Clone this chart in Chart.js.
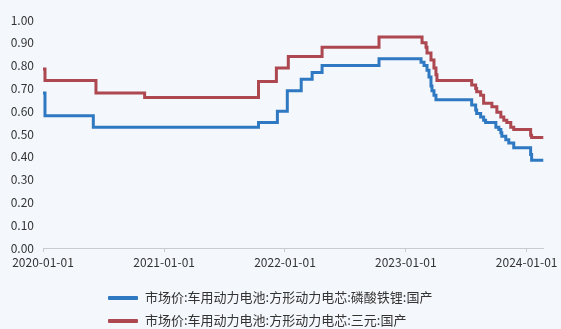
<!DOCTYPE html>
<html>
<head>
<meta charset="utf-8">
<script src="https://cdn.jsdelivr.net/npm/chart.js@4/dist/chart.umd.min.js"></script>
<style>
  html, body { margin: 0; padding: 0; background: #f4f7fb; }
  #wrap { position: relative; width: 561px; height: 329px; }
  #legend { position: absolute; left: 108px; top: 288px; font-family: "Noto Sans CJK SC", sans-serif; font-size: 13px; color: #333; }
  .item { height: 23px; line-height: 18px; white-space: nowrap; }
  .swatch { display: inline-block; width: 30px; height: 4px; vertical-align: middle; margin-right: 7px; border-radius: 1px; }
</style>
</head>
<body>
<div id="wrap">
  <canvas id="batteryChart" width="561" height="329"></canvas>
  <div id="legend"></div>
</div>
<script>
var seriesNames = ['市场价:车用动力电池:方形动力电芯:磷酸铁锂:国产', '市场价:车用动力电池:方形动力电芯:三元:国产']
var seriesColors = ['#2f78c2', '#ad4750']
var xTickDates = ['2020-01-01', '2021-01-01', '2022-01-01', '2023-01-01', '2024-01-01']
var yTicks = [0, 0.1, 0.2, 0.3, 0.4, 0.5, 0.6, 0.7, 0.8, 0.9, 1.0]
var axisEndDate = '2024-02-21'

// 磷酸铁锂
var lfpDates = ['2020-01-01', '2020-01-07', '2020-06-01', '2021-10-13', '2021-12-09', '2022-01-08',
    '2022-02-19', '2022-03-24', '2022-04-23', '2022-10-12', '2023-02-16', '2023-02-25', '2023-03-06',
    '2023-03-12', '2023-03-18', '2023-03-21', '2023-03-27', '2023-04-02', '2023-07-19', '2023-07-31',
    '2023-08-03', '2023-08-15', '2023-08-24', '2023-08-30', '2023-09-30', '2023-10-09', '2023-10-15',
    '2023-10-18', '2023-10-30', '2023-11-08', '2023-11-23', '2024-01-13', '2024-01-16', '2024-02-21']
var lfpValues = [0.68, 0.58, 0.53, 0.55, 0.60, 0.69,
    0.74, 0.77, 0.80, 0.83, 0.815, 0.80, 0.78,
    0.75, 0.71, 0.69, 0.67, 0.65, 0.627, 0.605,
    0.59, 0.575, 0.56, 0.55, 0.53, 0.52, 0.505,
    0.49, 0.475, 0.46, 0.44, 0.41, 0.385, 0.385]

// 三元
var ncmDates = ['2020-01-01', '2020-01-07', '2020-06-09', '2020-11-03', '2021-10-13', '2021-12-06',
    '2022-01-11', '2022-04-23', '2022-10-12', '2023-02-19', '2023-03-03', '2023-03-06', '2023-03-18',
    '2023-03-27', '2023-04-02', '2023-04-05', '2023-07-19', '2023-07-31', '2023-08-03', '2023-08-15',
    '2023-08-24', '2023-09-18', '2023-10-03', '2023-10-15', '2023-10-24', '2023-11-02', '2023-11-14',
    '2023-11-23', '2024-01-13', '2024-01-16', '2024-02-21']
var ncmValues = [0.785, 0.735, 0.68, 0.66, 0.73, 0.79,
    0.84, 0.88, 0.925, 0.90, 0.88, 0.855, 0.825,
    0.79, 0.76, 0.735, 0.715, 0.70, 0.685, 0.67,
    0.635, 0.62, 0.595, 0.575, 0.56, 0.55, 0.53,
    0.52, 0.495, 0.485, 0.485]

var dayMs = 24 * 3600 * 1000
var origin = Date.parse(xTickDates[0] + 'T00:00:00Z')
function toDay(s){
    return Math.round((Date.parse(s + 'T00:00:00Z') - origin) / dayMs)
}
function toPoints(dates, values){
    var result = []
    for(var i = 0; i < dates.length; i++){
        result.push({x: toDay(dates[i]), y: values[i]})
    }
    return result
}
var tickDays = xTickDates.map(toDay)

var ctx = document.getElementById('batteryChart').getContext('2d')
var batteryChart = new Chart(ctx, {
    type: 'line',
    data: {
        datasets: [{
            label: seriesNames[0],
            data: toPoints(lfpDates, lfpValues),
            borderColor: seriesColors[0],
            borderWidth: 3,
            stepped: 'before',
            pointRadius: 0,
            fill: false
        }, {
            label: seriesNames[1],
            data: toPoints(ncmDates, ncmValues),
            borderColor: seriesColors[1],
            borderWidth: 3,
            stepped: 'before',
            pointRadius: 0,
            fill: false
        }]
    },
    options: {
        responsive: false,
        animation: false,
        layout: { padding: { left: 10, right: 16, top: 20, bottom: 59 } },
        plugins: {
            legend: { display: false },
            tooltip: { enabled: false }
        },
        scales: {
            x: {
                type: 'linear',
                min: 0,
                max: toDay(axisEndDate),
                afterBuildTicks: function(scale){
                    scale.ticks = tickDays.map(function(d){ return {value: d} })
                },
                afterFit: function(scale){ scale.height = 22 },
                grid: { drawOnChartArea: false, drawTicks: true, tickLength: 4, color: '#c8ccd2' },
                border: { color: '#c8ccd2', width: 1 },
                ticks: {
                    padding: 3,
                    maxRotation: 0,
                    autoSkip: false,
                    color: '#333',
                    font: { family: 'Noto Sans CJK SC', size: 12 },
                    callback: function(v){
                        var i = tickDays.indexOf(v)
                        return i >= 0 ? xTickDates[i] : ''
                    }
                }
            },
            y: {
                min: 0,
                max: 1,
                afterBuildTicks: function(scale){
                    scale.ticks = yTicks.map(function(v){ return {value: v} })
                },
                afterFit: function(scale){ scale.width = 33 },
                grid: { display: false, tickLength: 0 },
                border: { display: false },
                ticks: {
                    padding: 9,
                    color: '#333',
                    font: { family: 'Noto Sans CJK SC', size: 12 },
                    callback: function(v){ return v.toFixed(2) }
                }
            }
        }
    }
})

var legend = document.getElementById('legend')
for(var i = 0; i < seriesNames.length; i++){
    legend.innerHTML += '<div class="item"><span class="swatch" style="background:' + seriesColors[i] + '"></span>' + seriesNames[i] + '</div>'
}
</script>
</body>
</html>
